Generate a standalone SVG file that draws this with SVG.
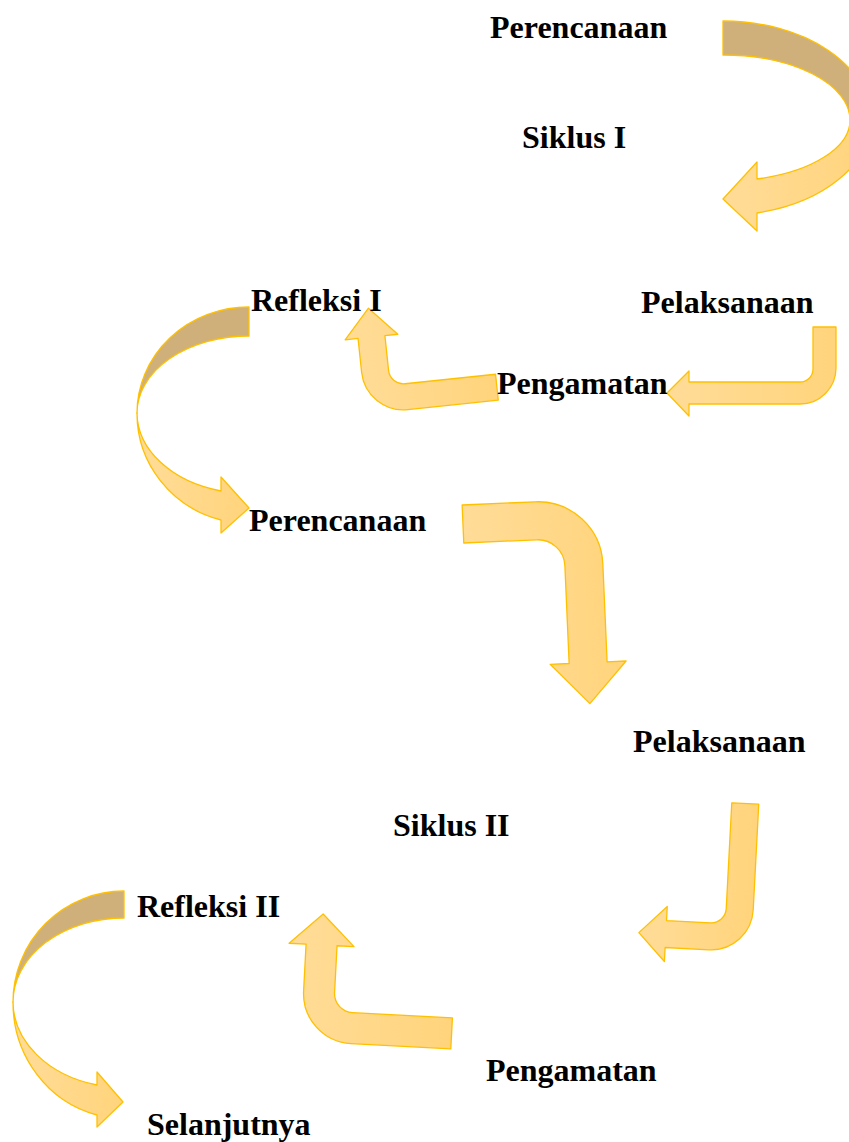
<svg xmlns="http://www.w3.org/2000/svg" width="849" height="1142" viewBox="0 0 849 1142">
<style>
.t{font-family:"Liberation Serif","Times New Roman",serif;font-weight:bold;font-size:32px;fill:#000}
.dk{fill:#CFB07A;stroke:#FFC000;stroke-width:1.3;stroke-linejoin:round}
.lt{fill:url(#g);stroke:#FFC000;stroke-width:1.3;stroke-linejoin:round}
</style>
<defs>
<linearGradient id="g" x1="0" y1="0" x2="1" y2="0">
<stop offset="0" stop-color="#FFDC98"/>
<stop offset="1" stop-color="#FFD47C"/>
</linearGradient>
</defs>
<g id="connectors">
<g id="arrow-siklus1-top">
<path class="dk" d="M723,21 A148,99 0 0 1 871,120 L850,120 A127,65 0 0 0 723,55 Z"/>
<path class="lt" d="M871,120 A148,96 0 0 1 757,213 L757,231 L723,199 L757,162 L757,179 A127,61 0 0 0 850,120 Z"/>
</g>
<path id="arrow-pelaksanaan1" class="lt" d="M813,327 H836 V368 A36,36 0 0 1 800,404 H689 V416 L667,393 L689,371 V382 H800 A13,13 0 0 0 813,369 Z"/>
<path id="arrow-pengamatan1" class="lt" transform="translate(366,414) rotate(-6)" d="M133,-26 L42,-26 A15,15 0 0 1 27,-41 L27,-76 L40,-76 L13.5,-105 L-13,-76 L0,-76 L0,-42 A42,42 0 0 0 42,0 L133,0 Z"/>
<g id="arrow-refleksi1">
<path class="dk" d="M249,307 A112,106 0 0 0 137,413 A112,77 0 0 1 249,336 Z"/>
<path class="lt" d="M137,413 A112,110 0 0 0 221,520 L221,533 L249,508 L221,477 L221,491 A112,81 0 0 1 137,413 Z"/>
</g>
<path id="arrow-perencanaan2" class="lt" transform="translate(600,499) rotate(-2.5)" d="M-138,0 L-65,0 A65,65 0 0 1 0,65 L0,163 L19,163 L-19,204 L-57,163 L-38,163 L-38,65 A27,27 0 0 0 -65,38 L-138,38 Z"/>
<path id="arrow-pelaksanaan2" class="lt" transform="translate(751,952) rotate(3)" d="M-27,-148 L0,-148 L0,-42 A42,42 0 0 1 -42,0 L-86,0 L-86,14 L-113,-13.5 L-86,-41 L-86,-27 L-42,-27 A15,15 0 0 0 -27,-42 Z"/>
<path id="arrow-pengamatan2" class="lt" transform="translate(301,1041) rotate(3)" d="M150,-31 L50,-31 A19,19 0 0 1 31,-50 L31,-97 L48,-97 L15.5,-128 L-17,-97 L0,-97 L0,-50 A50,50 0 0 0 50,0 L150,0 Z"/>
<g id="arrow-refleksi2">
<path class="dk" d="M124,891 A111,111 0 0 0 13,1002 A111,84 0 0 1 124,918 Z"/>
<path class="lt" d="M13,1002 A111,116 0 0 0 97,1115 L97,1127 L123,1102 L97,1072 L97,1085 A111,86 0 0 1 13,1002 Z"/>
</g>
</g>
<g id="n-perencanaan1"><text class="t" x="490" y="38">Perencanaan</text></g>
<g id="n-siklus1"><text class="t" x="522" y="148">Siklus I</text></g>
<g id="n-refleksi1"><text class="t" x="251" y="311">Refleksi I</text></g>
<g id="n-pelaksanaan1"><text class="t" x="641" y="313">Pelaksanaan</text></g>
<g id="n-pengamatan1"><text class="t" x="497" y="394">Pengamatan</text></g>
<g id="n-perencanaan2"><text class="t" x="249" y="531">Perencanaan</text></g>
<g id="n-pelaksanaan2"><text class="t" x="633" y="752">Pelaksanaan</text></g>
<g id="n-siklus2"><text class="t" x="393" y="836">Siklus II</text></g>
<g id="n-refleksi2"><text class="t" x="137" y="917">Refleksi II</text></g>
<g id="n-pengamatan2"><text class="t" x="486" y="1081">Pengamatan</text></g>
<g id="n-selanjutnya"><text class="t" x="147" y="1135">Selanjutnya</text></g>
</svg>
